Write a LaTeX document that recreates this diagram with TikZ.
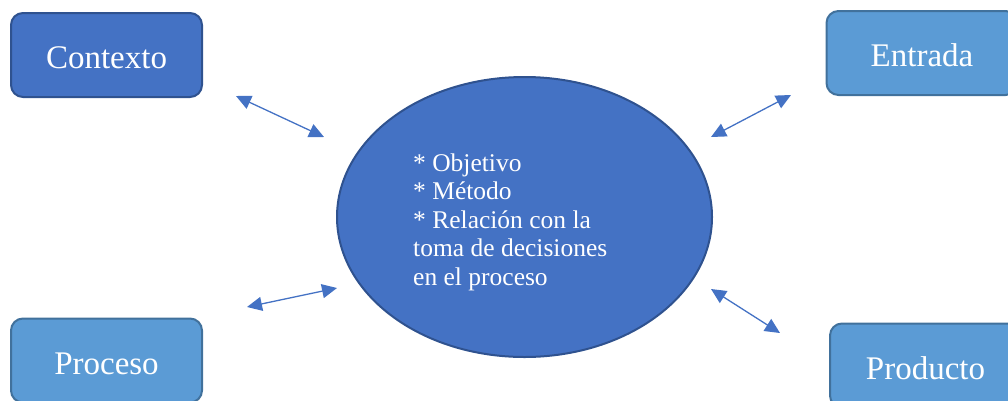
\documentclass[tikz,border=0pt]{standalone}
\usepackage{fontspec}
\setmainfont{Liberation Serif}
\usetikzlibrary{shapes.geometric}
\usetikzlibrary{arrows.meta}
\definecolor{topic fill}{HTML}{4472C4}
\definecolor{topic line}{HTML}{2F528F}
\definecolor{stage fill}{HTML}{5B9BD5}
\definecolor{stage line}{HTML}{41719C}
\tikzset{
    % Filled triangle heads on both ends of the links
    link/.style={draw=topic fill, line width=1.3pt,
        {Triangle[length=15pt, width=14pt]}-{Triangle[length=15pt, width=14pt]}},
%
    % Rounded box holding one of the four stages
    stage box/.style={draw=stage line, fill=stage fill, line width=2pt,
        rounded corners=12pt, minimum width=191pt, minimum height=84pt,
        inner sep=0, text=white, text height=27pt, text depth=0pt,
        font=\fontsize{33}{40}\selectfont}}

\begin{document}
\begin{tikzpicture}[x=1pt, y=-1pt,
    central/.style={draw=topic line, fill=topic fill, line width=2pt,
        ellipse, minimum width=375pt, minimum height=280pt, inner sep=0}]
\clip (0,0) rectangle (1008,400);

% The four stages round the picture
\node[stage box, draw=topic line, fill=topic fill] at (106.5,55) (contexto) {Contexto};
\node[stage box] at (922,53) (entrada) {Entrada};
\node[stage box] at (106.5,360.5) (proceso) {Proceso};
\node[stage box] at (925.5,365.5) (producto) {Producto};

% Central ellipse and its list
\node[central] at (524.5,217) (centre) {};
\node[anchor=west, align=left, text=white, inner sep=0,
    font=\fontsize{25.5}{28.5}\selectfont]
    at (413,222) (centre text)
    {* Objetivo\\* Método\\* Relación con la\\toma de decisiones\\en el proceso};

% Free-standing links between the stages and the ellipse
\coordinate (contexto end) at (236,96);
\coordinate (contexto tip) at (324,137);
\coordinate (entrada end) at (791,95);
\coordinate (entrada tip) at (711,137);
\coordinate (proceso end) at (247,307);
\coordinate (proceso tip) at (337,288);
\coordinate (producto end) at (780,333);
\coordinate (producto tip) at (711,289);

\draw[link] (contexto end) -- (contexto tip);
\draw[link] (entrada end) -- (entrada tip);
\draw[link] (proceso end) -- (proceso tip);
\draw[link] (producto end) -- (producto tip);
\end{tikzpicture}
\end{document}
